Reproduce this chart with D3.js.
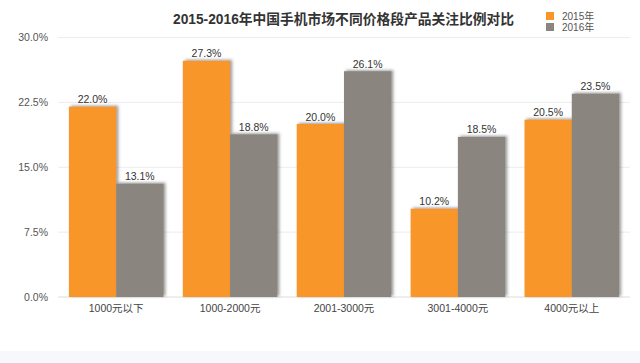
<!DOCTYPE html>
<html><head><meta charset="utf-8">
<script src="https://cdn.jsdelivr.net/npm/d3@7"></script>
<style>
html,body{margin:0;padding:0;background:#fff;}
svg{display:block;font-family:"Liberation Sans","Noto Sans CJK SC",sans-serif;}
</style></head>
<body>
<svg id="c" width="640" height="363"></svg>
<script>
const categories = ["1000元以下","1000-2000元","2001-3000元","3001-4000元","4000元以上"];
const seriesNames = ["2015年","2016年"];
const values2015 = [22.0, 27.3, 20.0, 10.2, 20.5];
const values2016 = [13.1, 18.8, 26.1, 18.5, 23.5];
const yTicks = [0, 7.5, 15, 22.5, 30];
const colors = ["#F9962A", "#8A867F"];
const title = "2015-2016年中国手机市场不同价格段产品关注比例对比";

const svg = d3.select("#c");
const defs = svg.append("defs");
const f = defs.append("filter").attr("id","sh").attr("x","-20%").attr("y","-20%").attr("width","140%").attr("height","140%");
f.append("feDropShadow").attr("dx",2).attr("dy",-1).attr("stdDeviation",1.6)
 .attr("flood-color","#444").attr("flood-opacity",0.55);

// bottom tint
svg.append("rect").attr("x",0).attr("y",351).attr("width",640).attr("height",12).attr("fill","#F7F8FC");

const y = d3.scaleLinear().domain([0,30]).range([297,37.5]);
const x0 = d3.scaleBand().domain(categories).range([58,630]).paddingInner(0.17).paddingOuter(0.096);
const x1 = d3.scaleBand().domain(seriesNames).range([0,x0.bandwidth()]);

// grid
svg.append("g").selectAll("line").data(yTicks).join("line")
  .attr("x1",58).attr("x2",630)
  .attr("y1",d=>y(d)).attr("y2",d=>y(d))
  .attr("stroke",d=>d===0?"#dcdcdc":"#ececec").attr("stroke-width",1);

// y labels
svg.append("g").selectAll("text").data(yTicks).join("text")
  .attr("x",48).attr("y",d=>y(d)+3.5).attr("text-anchor","end")
  .attr("font-size",10.5).attr("fill","#555")
  .text(d=>d3.format(".1f")(d)+"%");

const rows = categories.map((c,i)=>({c, v:[values2015[i], values2016[i]]}));

const g = svg.append("g").selectAll("g").data(rows).join("g")
  .attr("transform",d=>`translate(${x0(d.c)},0)`);

// draw 2016 first? draw in order; shadow of gray overlaps orange right side - draw orange then gray
g.selectAll("rect").data(d=>d.v.map((v,j)=>({s:seriesNames[j],v,j}))).join("rect")
  .attr("x",d=>x1(d.s)).attr("width",x1.bandwidth())
  .attr("y",d=>y(d.v)).attr("height",d=>y(0)-y(d.v))
  .attr("fill",d=>colors[d.j]).attr("filter","url(#sh)");

g.selectAll("text.v").data(d=>d.v.map((v,j)=>({s:seriesNames[j],v,j}))).join("text")
  .attr("class","v")
  .attr("x",d=>x1(d.s)+x1.bandwidth()/2).attr("y",d=>y(d.v)-3.5)
  .attr("text-anchor","middle").attr("font-size",10.5).attr("fill","#333")
  .text(d=>d3.format(".1f")(d.v)+"%");

// x labels
svg.append("g").selectAll("text").data(categories).join("text")
  .attr("x",d=>x0(d)+x0.bandwidth()/2).attr("y",312)
  .attr("text-anchor","middle").attr("font-size",10.5).attr("fill","#444")
  .text(d=>d);

// title
svg.append("text").attr("x",173).attr("y",24)
  .attr("font-size",14).attr("font-weight","bold").attr("fill","#333")
  .attr("textLength",341).attr("lengthAdjust","spacingAndGlyphs")
  .text(title);

// legend
const lg = svg.append("g").selectAll("g").data(seriesNames).join("g")
  .attr("transform",(d,i)=>`translate(546,${12+i*11})`);
lg.append("rect").attr("width",8).attr("height",8).attr("fill",(d,i)=>colors[i]);
lg.append("text").attr("x",16).attr("y",8).attr("font-size",10).attr("fill","#555").text(d=>d);
</script>
</body></html>
